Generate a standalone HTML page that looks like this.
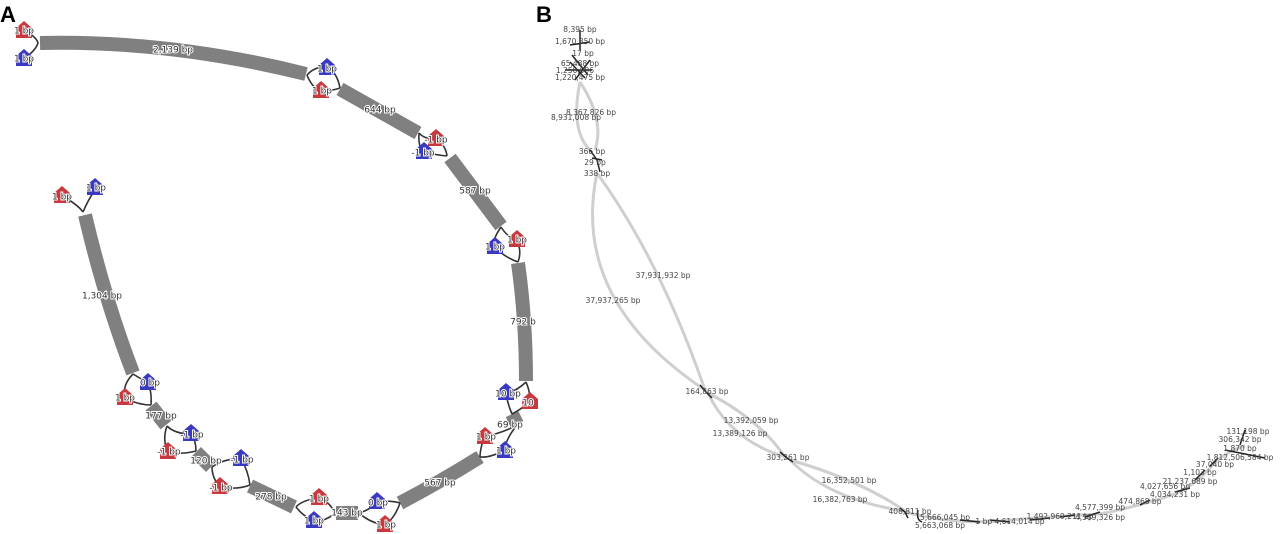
<!DOCTYPE html>
<html><head><meta charset="utf-8"><style>
html,body{margin:0;padding:0;background:#fff;}
svg{display:block;font-family:"DejaVu Sans","Liberation Sans",sans-serif;}
.s{fill:none;stroke:#808080;stroke-width:14;}
.c{fill:none;stroke:#333;stroke-width:1.6;}
.l{font-size:9px;fill:#333;text-anchor:middle;dominant-baseline:middle;paint-order:stroke;stroke:#fff;stroke-width:2px;}
.r{fill:#c8393f;}.b{fill:#3a3ac0;}
.g{fill:none;stroke:#cfcfcf;stroke-width:3;}
.k{fill:none;stroke:#222;stroke-width:1.5;}
.t{font-size:7.5px;fill:#444;text-anchor:middle;dominant-baseline:middle;}
</style></head><body>
<svg width="1280" height="534" viewBox="0 0 1280 534">
<defs><polygon id="p" points="-8,-3 0,-10 8,-3 8,7 -8,7"/></defs>
<text x="0" y="22" font-size="22" font-weight="bold" font-family="Liberation Sans">A</text>
<text x="536" y="22" font-size="22" font-weight="bold" font-family="Liberation Sans">B</text>
<path class="s" d="M40,43 Q170,40 306,74"/>
<path class="s" d="M340,89 L418,133"/>
<path class="s" d="M450,158 L501,226"/>
<path class="s" d="M518,263 Q526,320 526,381"/>
<path class="s" d="M512,414 L517,424"/>
<path class="s" d="M480,457 Q440,482 400,503"/>
<path class="s" d="M336,513 L358,513"/>
<path class="s" d="M250,486 L294,507"/>
<path class="s" d="M196,452 L211,467"/>
<path class="s" d="M151,406 L166,425"/>
<path class="s" d="M85,215 Q105,300 133,373"/>
<path class="c" d="M24,31 Q36,36 38,43 Q36,50 24,59"/>
<path class="c" d="M307,75 Q315,66 327,67 Q337,72 340,88 M307,75 Q312,88 321,91 Q332,91 340,88"/>
<path class="c" d="M419,133 Q425,140 436,138 Q446,146 447,156 M419,133 Q418,148 424,152 Q436,155 447,156"/>
<path class="c" d="M501,227 Q508,238 517,240 Q522,252 518,262 M501,227 Q492,240 494,247 Q506,258 518,262"/>
<path class="c" d="M526,382 Q518,390 506,394 Q508,405 512,414 M526,382 Q532,396 528,403 Q520,410 512,414"/>
<path class="c" d="M517,425 Q505,432 484,437 Q480,450 480,457 M517,425 Q505,440 505,450 Q490,458 480,457"/>
<path class="c" d="M400,503 Q390,500 377,502 Q370,510 359,513 M400,503 Q395,518 385,525 Q370,523 359,513"/>
<path class="c" d="M335,513 Q330,502 319,498 Q302,500 296,507 M335,513 Q325,522 313,521 Q302,515 296,507"/>
<path class="c" d="M250,485 Q248,470 241,459 Q225,458 212,467 M250,485 Q238,490 220,487 Q212,478 212,467"/>
<path class="c" d="M196,451 Q196,440 191,434 Q175,434 167,426 M196,451 Q180,455 168,452 Q162,440 167,426"/>
<path class="c" d="M151,405 Q152,392 148,383 Q138,377 133,374 M151,405 Q138,405 125,398 Q122,385 133,374"/>
<path class="c" d="M83,212 Q78,205 64,197 M83,212 Q88,200 95,190"/>
<g>
<use href="#p" class="r" x="24" y="31"/><text class="l" x="24" y="31">1 bp</text>
<use href="#p" class="b" x="24" y="59"/><text class="l" x="24" y="59">1 bp</text>
<use href="#p" class="b" x="327" y="68"/><text class="l" x="327" y="69">1 bp</text>
<use href="#p" class="r" x="321" y="91"/><text class="l" x="322" y="91">1 bp</text>
<use href="#p" class="r" x="436" y="139"/><text class="l" x="436" y="140">-1 bp</text>
<use href="#p" class="b" x="424" y="152"/><text class="l" x="423" y="153">-1 bp</text>
<use href="#p" class="r" x="517" y="240"/><text class="l" x="517" y="240">1 bp</text>
<use href="#p" class="b" x="495" y="247"/><text class="l" x="495" y="247">1 bp</text>
<use href="#p" class="b" x="506" y="393"/><text class="l" x="508" y="394">10 bp</text>
<use href="#p" class="r" x="530" y="402"/><text class="l" x="528" y="403">10</text>
<use href="#p" class="r" x="485" y="437"/><text class="l" x="486" y="437">1 bp</text>
<use href="#p" class="b" x="505" y="451"/><text class="l" x="506" y="451">1 bp</text>
<use href="#p" class="b" x="377" y="502"/><text class="l" x="378" y="503">0 bp</text>
<use href="#p" class="r" x="385" y="525"/><text class="l" x="386" y="525">1 bp</text>
<use href="#p" class="r" x="319" y="498"/><text class="l" x="319" y="499">1 bp</text>
<use href="#p" class="b" x="314" y="521"/><text class="l" x="314" y="521">1 bp</text>
<use href="#p" class="b" x="241" y="459"/><text class="l" x="242" y="460">-1 bp</text>
<use href="#p" class="r" x="220" y="487"/><text class="l" x="221" y="488">-1 bp</text>
<use href="#p" class="b" x="191" y="434"/><text class="l" x="192" y="435">-1 bp</text>
<use href="#p" class="r" x="168" y="452"/><text class="l" x="169" y="452">-1 bp</text>
<use href="#p" class="b" x="148" y="383"/><text class="l" x="150" y="383">0 bp</text>
<use href="#p" class="r" x="125" y="398"/><text class="l" x="125" y="398">1 bp</text>
<use href="#p" class="r" x="62" y="196"/><text class="l" x="62" y="197">1 bp</text>
<use href="#p" class="b" x="95" y="188"/><text class="l" x="96" y="188">1 bp</text>
</g>
<text class="l" x="173" y="50">2,139 bp</text>
<text class="l" x="380" y="110">644 bp</text>
<text class="l" x="475" y="191">587 bp</text>
<text class="l" x="523" y="322">792 b</text>
<text class="l" x="510" y="425">69 bp</text>
<text class="l" x="440" y="483">567 bp</text>
<text class="l" x="347" y="513">143 bp</text>
<text class="l" x="271" y="497">278 bp</text>
<text class="l" x="206" y="461">120 bp</text>
<text class="l" x="161" y="416">177 bp</text>
<text class="l" x="102" y="296">1,304 bp</text>
<path class="g" d="M597,173 Q570,300 705,390"/>
<path class="g" d="M597,173 Q660,260 705,390"/>
<path class="g" d="M708,393 Q730,440 785,457"/>
<path class="g" d="M708,393 Q760,420 785,457"/>
<path class="g" d="M790,460 Q830,500 905,511"/>
<path class="g" d="M790,460 Q860,480 905,511"/>
<path class="g" d="M580,82 Q570,130 590,150"/>
<path class="g" d="M580,82 Q605,120 595,150"/>
<path class="g" d="M905,512 Q960,526 1010,520 Q1060,516 1100,514 Q1140,506 1175,494 Q1200,482 1215,462 Q1230,450 1245,446"/>
<path class="k" d="M580,30 L580,50 M570,45 L590,42 M572,55 L588,75 M565,70 L592,70 M570,62 L585,78 M575,80 L590,60"/>
<path class="k" d="M590,150 L597,160 L600,172 M592,158 L602,160"/>
<path class="k" d="M700,385 L706,392 L712,398"/>
<path class="k" d="M780,452 L787,458 L793,462"/>
<path class="k" d="M900,508 L905,512 L908,518 M918,510 Q916,520 922,522"/>
<path class="k" d="M960,520 L980,522 M990,520 L1010,522 M1030,520 L1050,518 M1060,517 L1075,515 M1085,517 L1100,512 M1140,505 L1150,500 M1175,492 L1190,488 M1195,480 L1205,470 M1210,466 L1218,458 M1225,450 L1265,458 M1240,445 L1245,430"/>
<text class="t" x="580" y="30">8,395 bp</text>
<text class="t" x="580" y="42">1,670,850 bp</text>
<text class="t" x="583" y="54">17 bp</text>
<text class="t" x="580" y="64">65,488 bp</text>
<text class="t" x="575" y="71">1,250,996</text>
<text class="t" x="580" y="78">1,220,475 bp</text>
<text class="t" x="591" y="113">8,367,826 bp</text>
<text class="t" x="576" y="118">8,931,008 bp</text>
<text class="t" x="592" y="152">366 bp</text>
<text class="t" x="595" y="163">29 bp</text>
<text class="t" x="597" y="174">338 bp</text>
<text class="t" x="663" y="276">37,931,932 bp</text>
<text class="t" x="613" y="301">37,937,265 bp</text>
<text class="t" x="707" y="392">164,863 bp</text>
<text class="t" x="751" y="421">13,392,059 bp</text>
<text class="t" x="740" y="434">13,389,126 bp</text>
<text class="t" x="788" y="458">303,261 bp</text>
<text class="t" x="849" y="481">16,352,501 bp</text>
<text class="t" x="840" y="500">16,382,763 bp</text>
<text class="t" x="910" y="512">408,811 bp</text>
<text class="t" x="945" y="518">5,666,045 bp</text>
<text class="t" x="940" y="526">5,663,068 bp</text>
<text class="t" x="1010" y="522">1 bp 4,614,014 bp</text>
<text class="t" x="1060" y="517">1,492,969,211 bp</text>
<text class="t" x="1100" y="518">4,569,326 bp</text>
<text class="t" x="1100" y="508">4,577,399 bp</text>
<text class="t" x="1140" y="502">474,868 bp</text>
<text class="t" x="1175" y="495">4,034,231 bp</text>
<text class="t" x="1165" y="487">4,027,656 bp</text>
<text class="t" x="1190" y="482">21,237,689 bp</text>
<text class="t" x="1200" y="473">1,103 bp</text>
<text class="t" x="1215" y="465">37,040 bp</text>
<text class="t" x="1240" y="458">1,812,506,584 bp</text>
<text class="t" x="1240" y="449">1,870 bp</text>
<text class="t" x="1240" y="440">306,342 bp</text>
<text class="t" x="1248" y="432">131,198 bp</text>
</svg>
</body></html>
